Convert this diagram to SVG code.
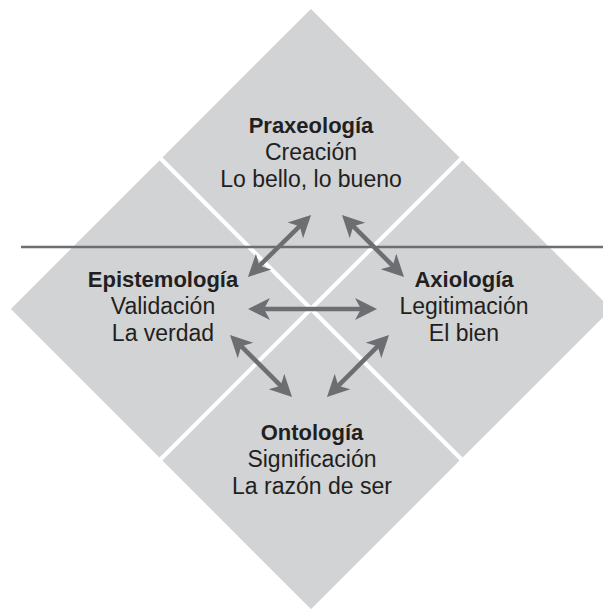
<svg xmlns="http://www.w3.org/2000/svg" width="603" height="609" viewBox="0 0 603 609">
<style>
.q{fill:#d1d3d4;stroke:#fff;stroke-width:4;stroke-linejoin:miter}
text{font-family:"Liberation Sans",Arial,sans-serif;fill:#231f20;text-anchor:middle;font-size:23px}
.t{font-weight:bold;font-size:22px}
.a{stroke:#6d6e71;stroke-width:4.5;fill:none;marker-start:url(#h);marker-end:url(#h)}
</style>
<defs>
<marker id="h" markerUnits="userSpaceOnUse" markerWidth="40" markerHeight="40" viewBox="-20 -20 40 40" refX="0" refY="0" orient="auto-start-reverse" overflow="visible">
<path d="M6,0 L-16,-11 L-10,0 L-16,11 Z" fill="#6d6e71"/>
</marker>
</defs>
<g id="praxeologia">
<polygon class="q" points="311,6 462.5,157.5 311,309 159.5,157.5"/>
<text x="311" y="133" class="t">Praxeología</text>
<text x="311" y="160">Creación</text>
<text x="311" y="187">Lo bello, lo bueno</text>
</g>
<g id="epistemologia">
<polygon class="q" points="159.5,157.5 311,309 159.5,460.5 8,309"/>
<text x="163" y="287" class="t">Epistemología</text>
<text x="163" y="314">Validación</text>
<text x="163" y="341">La verdad</text>
</g>
<g id="axiologia">
<polygon class="q" points="462.5,157.5 614,309 462.5,460.5 311,309"/>
<text x="464" y="287" class="t">Axiología</text>
<text x="464" y="314">Legitimación</text>
<text x="464" y="341">El bien</text>
</g>
<g id="ontologia">
<polygon class="q" points="311,309 462.5,460.5 311,612 159.5,460.5"/>
<text x="312" y="440" class="t">Ontología</text>
<text x="312" y="467">Significación</text>
<text x="312" y="494">La razón de ser</text>
</g>
<line id="horizonte" x1="21" y1="247" x2="603" y2="247" stroke="#6d6e71" stroke-width="2.5"/>
<g id="connectors">
<line class="a" x1="254" y1="309" x2="371" y2="309"/>
<line class="a" x1="252.2" y1="272.8" x2="306.8" y2="219.2"/>
<line class="a" x1="346.2" y1="219.2" x2="399.8" y2="272.8"/>
<line class="a" x1="234.2" y1="339.2" x2="287.8" y2="392.8"/>
<line class="a" x1="331.2" y1="392.8" x2="384.8" y2="339.2"/>
</g>
</svg>
